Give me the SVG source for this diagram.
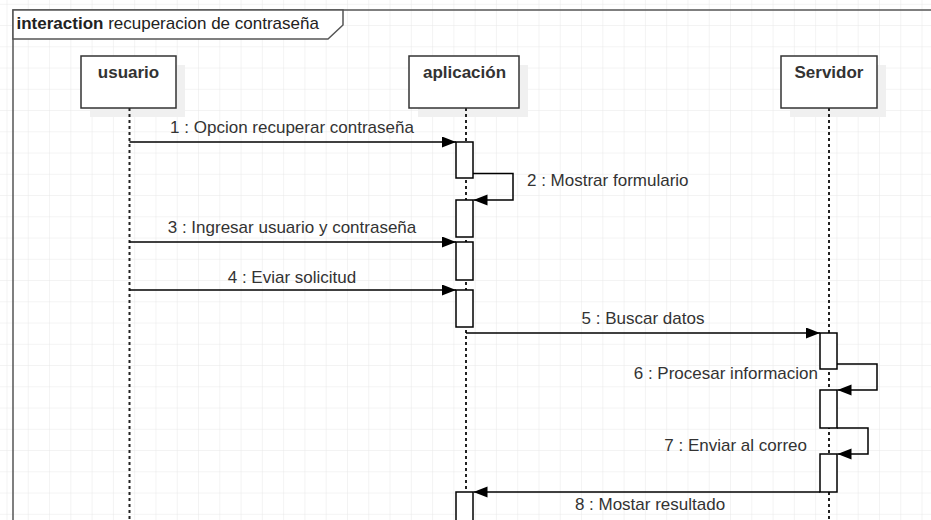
<svg xmlns="http://www.w3.org/2000/svg" width="931" height="520" viewBox="0 0 931 520">
<defs>
<pattern id="grid" x="6.5" y="3.8" width="21.28" height="21.25" patternUnits="userSpaceOnUse">
<path d="M0 0 H21.28 M0 0 V21.25" fill="none" stroke="#e8e8e8" stroke-width="1"/>
</pattern>
<marker id="arr" markerUnits="userSpaceOnUse" markerWidth="15" markerHeight="12" refX="14" refY="5.5" orient="auto">
<path d="M0 0 L14 5.5 L0 11 Z" fill="#000"/>
</marker>
</defs>
<style>
text{font-family:"Liberation Sans",Arial,sans-serif;font-size:17px;fill:#333}
.bold{font-weight:bold}
.box{fill:#fff;stroke:#333;stroke-width:1.5}
.shadow{fill:#f0f0f0;stroke:none}
.life{stroke:#222;stroke-width:2;stroke-dasharray:3 3;fill:none}
.act{fill:#fff;stroke:#000;stroke-width:1.5}
.msg{fill:none;stroke:#000;stroke-width:1.5;marker-end:url(#arr)}
.frame{fill:none;stroke:#555;stroke-width:1.5}
</style>
<rect x="0" y="0" width="931" height="520" fill="#fff"/>
<rect x="0" y="0" width="931" height="520" fill="url(#grid)"/>

<g id="frame">
<path class="frame" d="M13 520 V10 H931"/>
<path d="M13 10 H343 V25 L328 39 H13 Z" fill="#fff" stroke="#555" stroke-width="1.5"/>
<text x="16.5" y="28.5" style="fill:#222"><tspan class="bold">interaction</tspan> recuperacion de contraseña</text>
</g>

<g id="usuario">
<rect class="shadow" x="90" y="65" width="95" height="52"/>
<line class="life" x1="129.5" y1="108" x2="129.5" y2="520"/>
<rect class="box" x="81" y="56" width="95" height="52"/>
<text class="bold" x="128.5" y="78" text-anchor="middle">usuario</text>
</g>

<g id="aplicacion">
<rect class="shadow" x="418" y="65" width="110" height="52"/>
<line class="life" x1="466" y1="108" x2="466" y2="520"/>
<rect class="box" x="409" y="56" width="110" height="52"/>
<text class="bold" x="464.5" y="78" text-anchor="middle">aplicación</text>
<rect class="act" x="456" y="142" width="17" height="36"/>
<rect class="act" x="456" y="200" width="17" height="37"/>
<rect class="act" x="456" y="242" width="17" height="38"/>
<rect class="act" x="456" y="290" width="17" height="37"/>
<rect class="act" x="456" y="492" width="17" height="40"/>
</g>

<g id="servidor">
<rect class="shadow" x="790" y="65" width="96" height="52"/>
<line class="life" x1="829" y1="108" x2="829" y2="520"/>
<rect class="box" x="781" y="56" width="96" height="52"/>
<text class="bold" x="829" y="78" text-anchor="middle">Servidor</text>
<rect class="act" x="820" y="333" width="17" height="36"/>
<rect class="act" x="820" y="390" width="17" height="38"/>
<rect class="act" x="820" y="454" width="17" height="38"/>
</g>

<g id="connectors">
<line class="msg" x1="129.5" y1="142" x2="456" y2="142"/>
<text x="292" y="133" text-anchor="middle">1 : Opcion recuperar contraseña</text>
<path class="msg" d="M473 173.5 H513 V200 H473.5"/>
<text x="527" y="186">2 : Mostrar formulario</text>
<line class="msg" x1="129.5" y1="242" x2="456" y2="242"/>
<text x="292" y="233" text-anchor="middle">3 : Ingresar usuario y contraseña</text>
<line class="msg" x1="129.5" y1="290" x2="456" y2="290"/>
<text x="292" y="283" text-anchor="middle">4 : Eviar solicitud</text>
<line class="msg" x1="466" y1="333" x2="820" y2="333"/>
<text x="643" y="324" text-anchor="middle">5 : Buscar datos</text>
<path class="msg" d="M837 364 H877 V390 H837.5"/>
<text x="818" y="379" text-anchor="end">6 : Procesar informacion</text>
<path class="msg" d="M837 428 H868 V454 H837.5"/>
<text x="807" y="451" text-anchor="end">7 : Enviar al correo</text>
<line class="msg" x1="820" y1="492" x2="473.5" y2="492"/>
<text x="650" y="510" text-anchor="middle">8 : Mostar resultado</text>
</g>
</svg>
